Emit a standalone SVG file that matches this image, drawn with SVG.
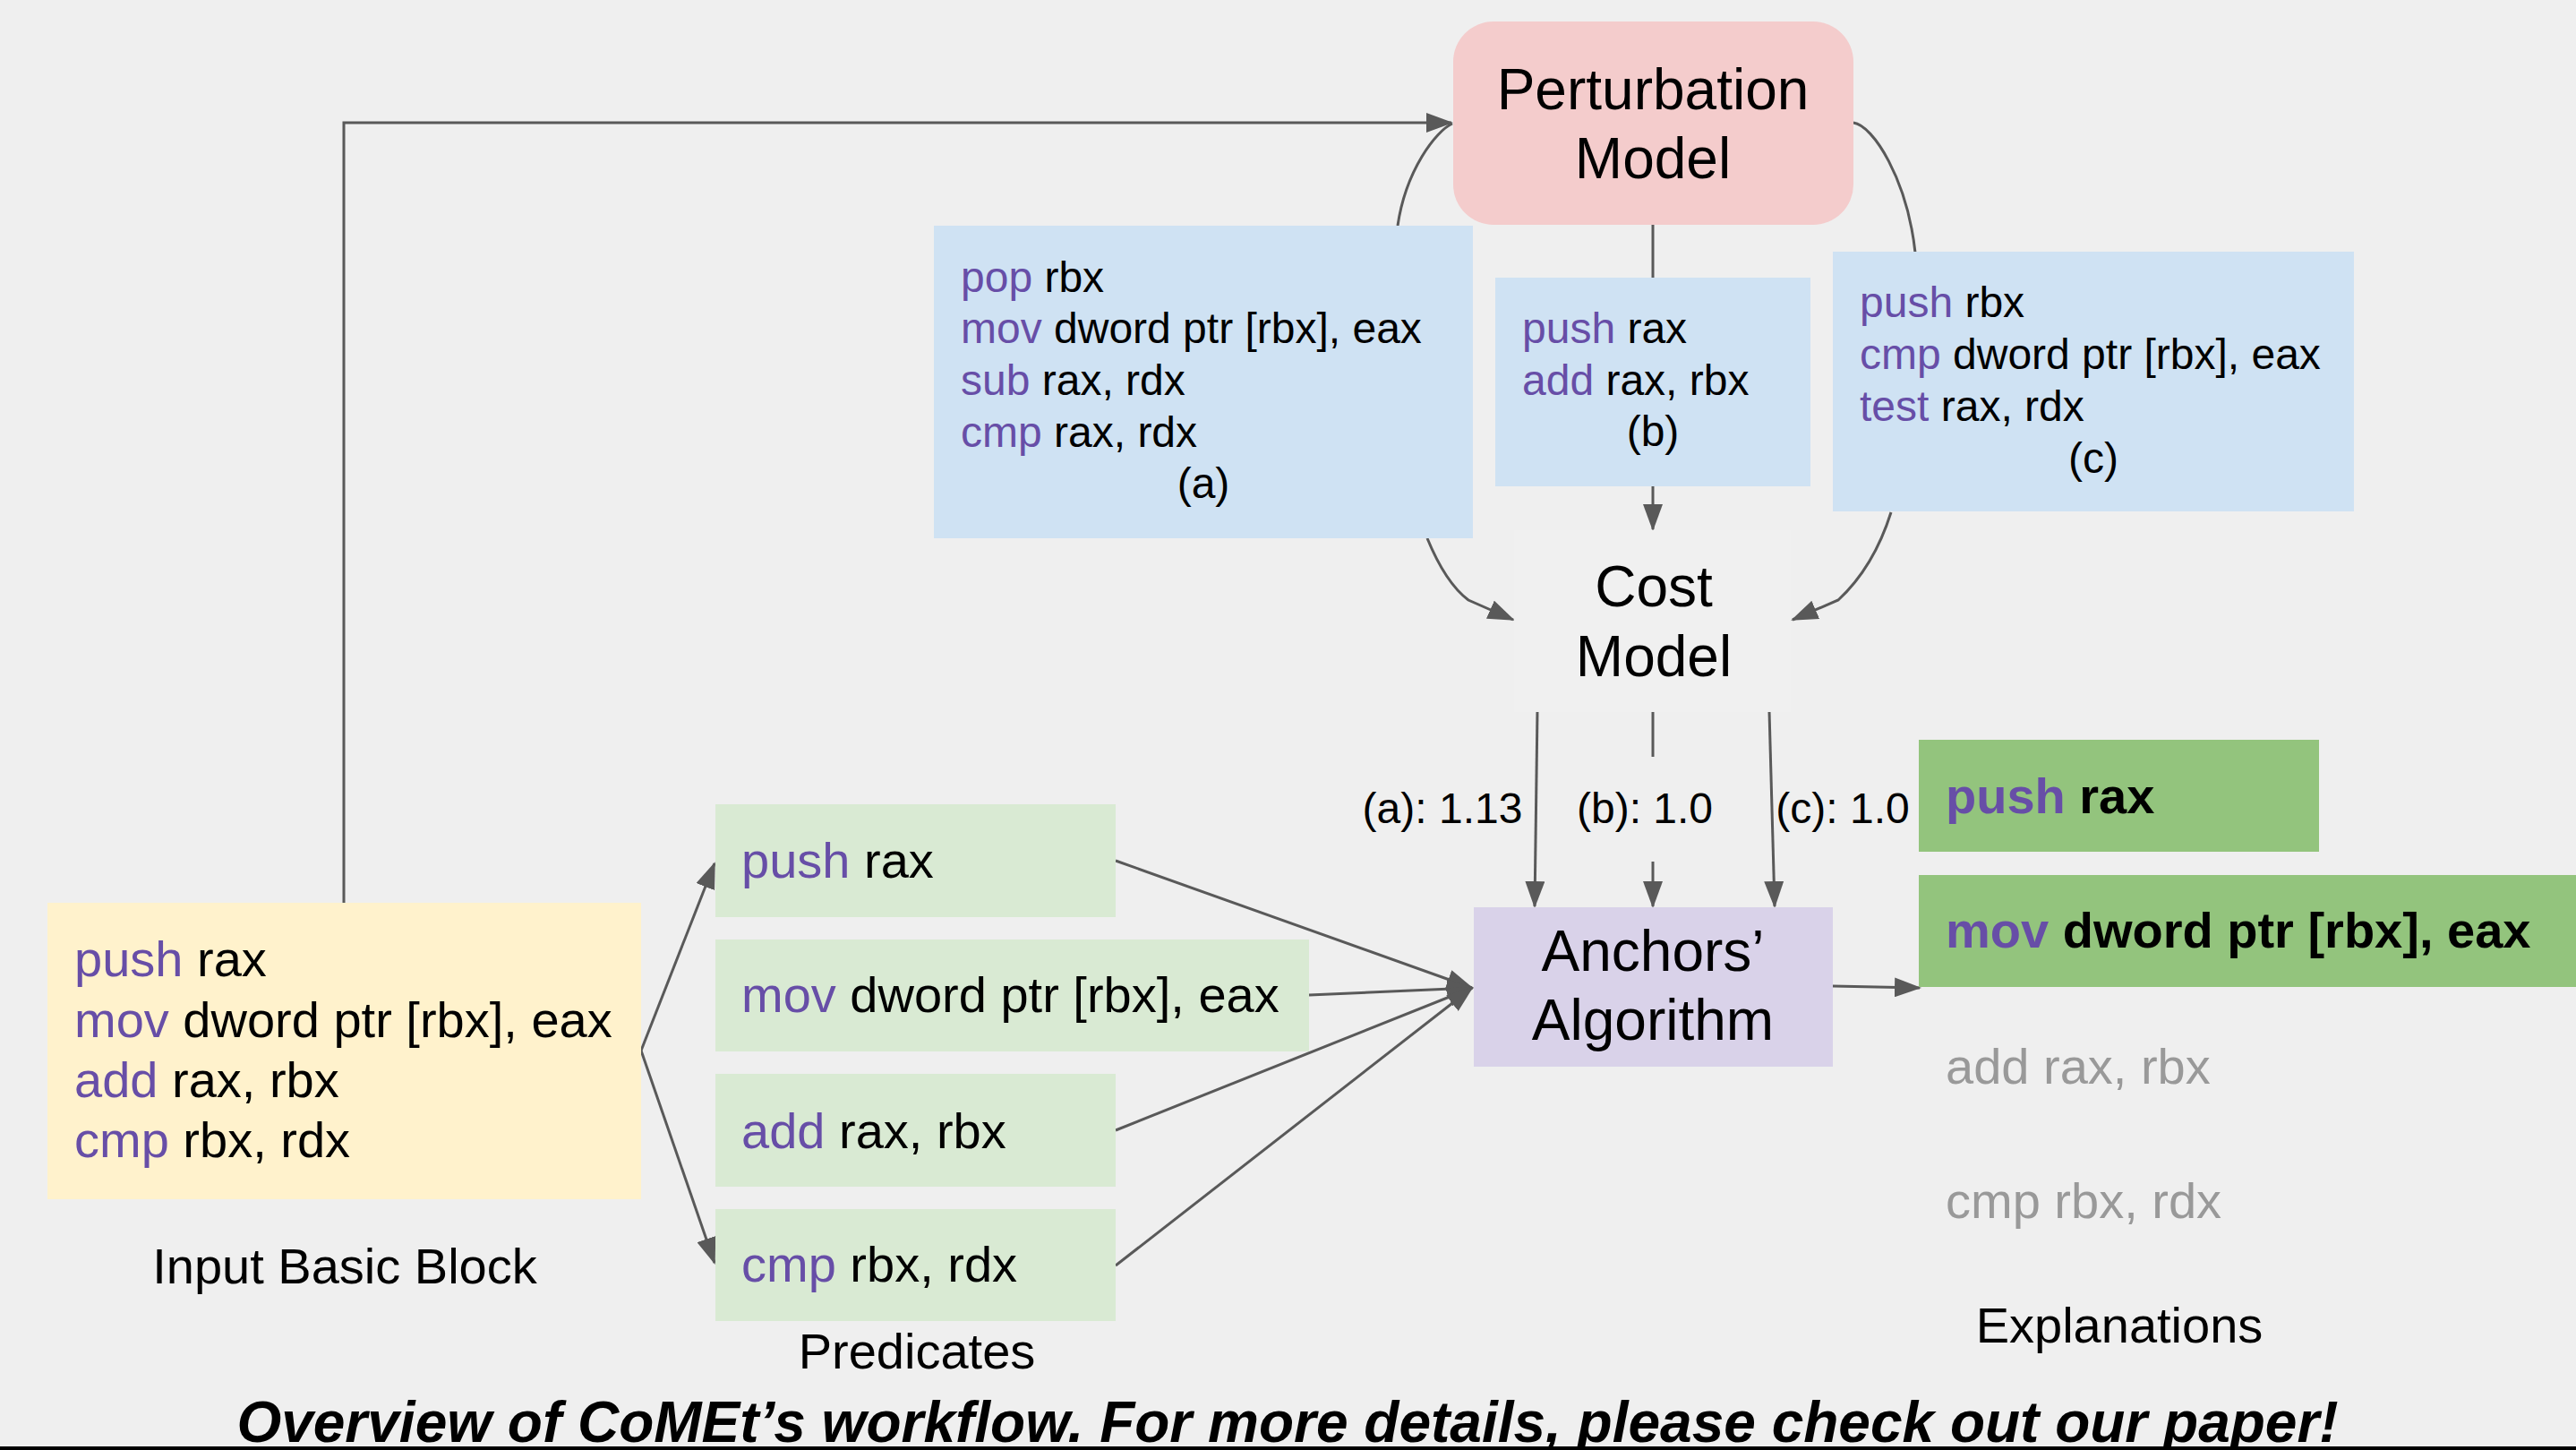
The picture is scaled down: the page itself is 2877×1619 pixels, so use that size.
<svg xmlns="http://www.w3.org/2000/svg" width="2877" height="1619" viewBox="0 0 2877 1619">
<defs>
<style>
text{font-family:"Liberation Sans",Arial,sans-serif;fill:#000}
.k{fill:#674ea7}
.g{fill:#999999}
.b{font-weight:bold}
.s48{font-size:48px}
.s56{font-size:56px}
.s64{font-size:64px}
.mid{text-anchor:middle}
.ln{fill:none;stroke:#595959;stroke-width:3}
.ar{marker-end:url(#ah)}
</style>
<marker id="ah" markerUnits="userSpaceOnUse" markerWidth="30" markerHeight="22" refX="28" refY="11" orient="auto" viewBox="0 0 30 22">
<path d="M0,0 L30,11 L0,22 z" fill="#595959"/>
</marker>
</defs>
<rect x="0" y="0" width="2877" height="1619" fill="#efefef"/>

<g id="connectors">
<path class="ln ar" d="M384,1008 L384,137 L1621,137"/>
<path class="ln" d="M1622,138 C1604,146 1570,190 1561,252"/>
<path class="ln" d="M2070,137 C2092,140 2130,200 2139,282"/>
<path class="ln" d="M1846,251 L1846,310"/>
<path class="ln ar" d="M1846,543 L1846,591"/>
<path class="ln ar" d="M1594,601 C1608,635 1624,658 1640,670 L1690,692"/>
<path class="ln ar" d="M2112,572 C2100,610 2080,645 2053,670 L2002,692"/>
<path class="ln ar" d="M1717,794 L1714,1012"/>
<path class="ln" d="M1846,794 L1846,845"/>
<path class="ln ar" d="M1846,962 L1846,1012"/>
<path class="ln ar" d="M1976,794 L1982,1012"/>
<path class="ln ar" d="M716,1173 L798,964"/>
<path class="ln ar" d="M716,1173 L798,1410"/>
<path class="ln ar" d="M1246,961 L1644,1103"/>
<path class="ln ar" d="M1462,1111 L1644,1103"/>
<path class="ln ar" d="M1246,1262 L1644,1103"/>
<path class="ln ar" d="M1246,1413 L1644,1103"/>
<path class="ln ar" d="M2047,1101 L2144,1103"/>
</g>

<g id="perturbation-model">
<rect x="1623" y="24" width="447" height="227" rx="45" ry="45" fill="#f4cccc"/>
<text class="s64 mid" x="1846" y="122">Perturbation</text>
<text class="s64 mid" x="1846" y="199">Model</text>
</g>

<g id="perturb-a">
<rect x="1043" y="252" width="602" height="349" fill="#cfe2f3"/>
<text class="s48" x="1073" y="326"><tspan class="k">pop</tspan> rbx</text>
<text class="s48" x="1073" y="383"><tspan class="k">mov</tspan> dword ptr [rbx], eax</text>
<text class="s48" x="1073" y="441"><tspan class="k">sub</tspan> rax, rdx</text>
<text class="s48" x="1073" y="499"><tspan class="k">cmp</tspan> rax, rdx</text>
<text class="s48 mid" x="1344" y="556">(a)</text>
</g>

<g id="perturb-b">
<rect x="1670" y="310" width="352" height="233" fill="#cfe2f3"/>
<text class="s48" x="1700" y="383"><tspan class="k">push</tspan> rax</text>
<text class="s48" x="1700" y="441"><tspan class="k">add</tspan> rax, rbx</text>
<text class="s48 mid" x="1846" y="498">(b)</text>
</g>

<g id="perturb-c">
<rect x="2047" y="281" width="582" height="290" fill="#cfe2f3"/>
<text class="s48" x="2077" y="354"><tspan class="k">push</tspan> rbx</text>
<text class="s48" x="2077" y="412"><tspan class="k">cmp</tspan> dword ptr [rbx], eax</text>
<text class="s48" x="2077" y="470"><tspan class="k">test</tspan> rax, rdx</text>
<text class="s48 mid" x="2338" y="528">(c)</text>
</g>

<g id="cost-model">
<rect x="1691" y="592" width="309" height="203" fill="#f0f0f0"/>
<text class="s64 mid" x="1847" y="677">Cost</text>
<text class="s64 mid" x="1847" y="755">Model</text>
</g>

<g id="cost-labels">
<text class="s48 mid" x="1611" y="919">(a): 1.13</text>
<text class="s48 mid" x="1837" y="919">(b): 1.0</text>
<text class="s48 mid" x="2058" y="919">(c): 1.0</text>
</g>

<g id="anchors-algorithm">
<rect x="1646" y="1013" width="401" height="178" fill="#d9d2e9"/>
<text class="s64 mid" x="1846" y="1084">Anchors’</text>
<text class="s64 mid" x="1846" y="1161">Algorithm</text>
</g>

<g id="input-basic-block">
<rect x="53" y="1008" width="663" height="331" fill="#fff2cc"/>
<text class="s56" x="83" y="1090"><tspan class="k">push</tspan> rax</text>
<text class="s56" x="83" y="1158"><tspan class="k">mov</tspan> dword ptr [rbx], eax</text>
<text class="s56" x="83" y="1225"><tspan class="k">add</tspan> rax, rbx</text>
<text class="s56" x="83" y="1292"><tspan class="k">cmp</tspan> rbx, rdx</text>
<text class="s56 mid" x="385" y="1433">Input Basic Block</text>
</g>

<g id="predicate-1">
<rect x="799" y="898" width="447" height="126" fill="#d9ead3"/>
<text class="s56" x="828" y="980"><tspan class="k">push</tspan> rax</text>
</g>
<g id="predicate-2">
<rect x="799" y="1049" width="663" height="125" fill="#d9ead3"/>
<text class="s56" x="828" y="1130"><tspan class="k">mov</tspan> dword ptr [rbx], eax</text>
</g>
<g id="predicate-3">
<rect x="799" y="1199" width="447" height="126" fill="#d9ead3"/>
<text class="s56" x="828" y="1282"><tspan class="k">add</tspan> rax, rbx</text>
</g>
<g id="predicate-4">
<rect x="799" y="1350" width="447" height="125" fill="#d9ead3"/>
<text class="s56" x="828" y="1431"><tspan class="k">cmp</tspan> rbx, rdx</text>
</g>
<g id="predicates-label">
<text class="s56 mid" x="1024" y="1528">Predicates</text>
</g>

<g id="explanation-1">
<rect x="2143" y="826" width="447" height="125" fill="#93c47d"/>
<text class="s56 b" x="2173" y="908"><tspan class="k">push</tspan> rax</text>
</g>
<g id="explanation-2">
<rect x="2143" y="977" width="734" height="125" fill="#93c47d"/>
<text class="s56 b" x="2173" y="1058"><tspan class="k">mov</tspan> dword ptr [rbx], eax</text>
</g>
<g id="explanation-rest">
<text class="s56 g" x="2173" y="1210">add rax, rbx</text>
<text class="s56 g" x="2173" y="1360">cmp rbx, rdx</text>
<text class="s56 mid" x="2367" y="1499">Explanations</text>
</g>

<g id="caption">
<text class="s64 mid b" x="1438" y="1610" font-style="italic">Overview of CoMEt’s workflow. For more details, please check out our paper!</text>
<rect x="0" y="1615" width="2877" height="4" fill="#000"/>
</g>
</svg>
